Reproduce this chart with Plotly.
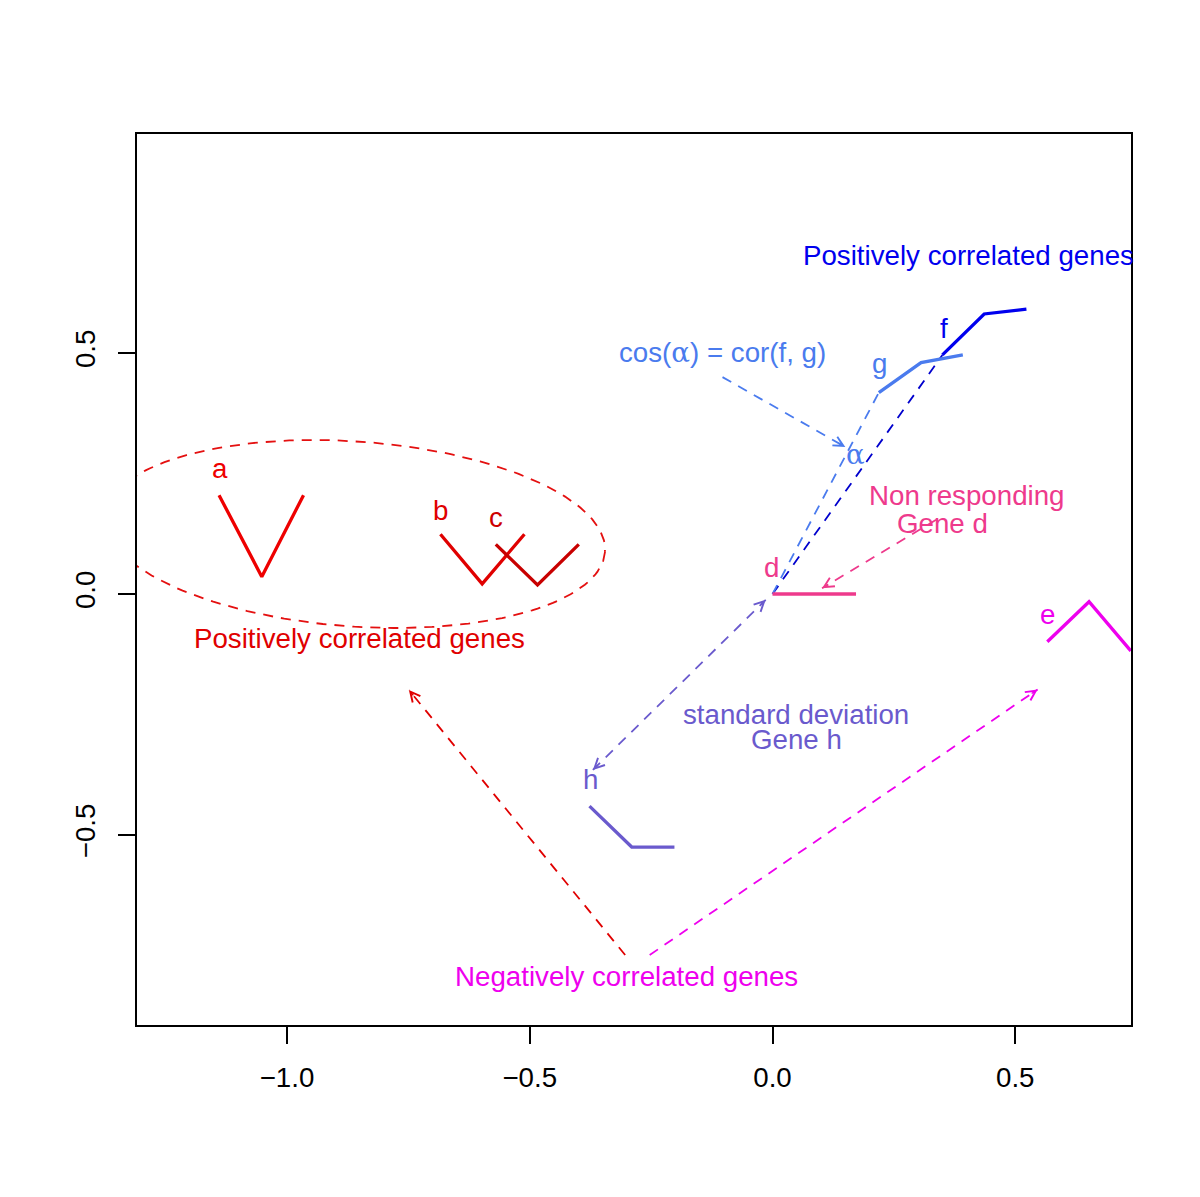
import numpy as np
import plotly.graph_objects as go

# axis frame (data units) and ticks
x_range = [-1.309, 0.7384]
y_range = [-0.8942, 0.9544]
x_ticks = [-1.0, -0.5, 0.0, 0.5]
y_ticks = [-0.5, 0.0, 0.5]

# gene profiles drawn as small polylines in the factor plane
gene_a_x = [-1.140, -1.052, -0.966]
gene_a_y = [0.205, 0.036, 0.205]
gene_b_x = [-0.684, -0.598, -0.511]
gene_b_y = [0.124, 0.021, 0.124]
gene_c_x = [-0.570, -0.484, -0.399]
gene_c_y = [0.103, 0.019, 0.103]
gene_d_x = [0.0, 0.086, 0.172]
gene_d_y = [0.0, 0.0, 0.0]
gene_e_x = [0.566, 0.652, 0.738]
gene_e_y = [-0.099, -0.016, -0.118]
gene_f_x = [0.350, 0.436, 0.523]
gene_f_y = [0.496, 0.581, 0.591]
gene_g_x = [0.219, 0.306, 0.392]
gene_g_y = [0.418, 0.480, 0.496]
gene_h_x = [-0.377, -0.290, -0.202]
gene_h_y = [-0.440, -0.525, -0.525]

# ellipse around the positively correlated red genes: centre and two half-axis vectors
ell_center = (-0.860, 0.1245)
ell_u = (0.515, -0.037)
ell_v = (-0.0136, -0.1915)

# dashed guide lines without heads: (x0, y0, x1, y1, colour)
guides = [
    (0.0, 0.0, 0.350, 0.496, "#0000CD"),
    (0.0, 0.0, 0.219, 0.418, "#4A7BEE"),
]

# dashed arrows: (x0, y0, x1, y1, colour, head at start too)
arrows = [
    (-0.103, 0.450, 0.150, 0.305, "#4A7BEE", False),
    (0.337, 0.154, 0.102, 0.012, "#EE3A8C", False),
    (-0.370, -0.365, -0.014, -0.012, "#6A5ACD", True),
    (-0.3035, -0.749, -0.749, -0.199, "#E00000", False),
    (-0.253, -0.749, 0.546, -0.198, "#EE00EE", False),
]

# text labels: (x, y, text, colour)
labels = [
    (-1.138, 0.260, "a", "#EE0000"),
    (-0.683, 0.174, "b", "#E00000"),
    (-0.570, 0.159, "c", "#CD0000"),
    (-0.850, -0.093, "Positively correlated genes", "#E00000"),
    (-0.002, 0.054, "d", "#EE3A8C"),
    (0.400, 0.205, "Non responding", "#EE3A8C"),
    (0.350, 0.147, "Gene d", "#EE3A8C"),
    (0.566, -0.043, "e", "#EE00EE"),
    (0.354, 0.551, "f", "#0000EE"),
    (0.221, 0.478, "g", "#4A7BEE"),
    (-0.103, 0.502, "cos(<span style='font-family:DejaVu Serif'>α</span>) = cor(f, g)", "#4A7BEE"),
    (0.170, 0.290, "<span style='font-family:DejaVu Serif'>α</span>", "#4A7BEE"),
    (0.403, 0.703, "Positively correlated genes", "#0000EE"),
    (0.049, -0.251, "standard deviation", "#6A5ACD"),
    (0.049, -0.302, "Gene h", "#6A5ACD"),
    (-0.375, -0.385, "h", "#6A5ACD"),
    (-0.300, -0.793, "Negatively correlated genes", "#EE00EE"),
]

W, H = 1200, 1197
# the page body adds an 8px offset, so shift the plot area back
M = dict(l=129, r=77, t=126, b=180)
px_x = (W - M["l"] - M["r"]) / (x_range[1] - x_range[0])
px_y = (H - M["t"] - M["b"]) / (y_range[1] - y_range[0])
DASH = "10px,8px"
FONT = "Liberation Sans, Arial, sans-serif"
FS = 27.7

fig = go.Figure()

genes = [
    (gene_a_x, gene_a_y, "#EE0000"),
    (gene_b_x, gene_b_y, "#E00000"),
    (gene_c_x, gene_c_y, "#C80000"),
    (gene_d_x, gene_d_y, "#EE3A8C"),
    (gene_e_x, gene_e_y, "#EE00EE"),
    (gene_f_x, gene_f_y, "#0000EE"),
    (gene_g_x, gene_g_y, "#4A7BEE"),
    (gene_h_x, gene_h_y, "#6A5ACD"),
]

t = np.linspace(0, 2 * np.pi, 200)
fig.add_trace(go.Scatter(
    x=ell_center[0] + ell_u[0] * np.cos(t) + ell_v[0] * np.sin(t),
    y=ell_center[1] + ell_u[1] * np.cos(t) + ell_v[1] * np.sin(t),
    mode="lines", line=dict(color="#E41010", width=1.8, dash=DASH),
))

for x0, y0, x1, y1, col in guides:
    fig.add_trace(go.Scatter(x=[x0, x1], y=[y0, y1], mode="lines",
                             line=dict(color=col, width=1.8, dash=DASH)))


def head(x_tip, y_tip, x_from, y_from, col):
    # short pixel offset along the arrow so plotly orients the head
    dx = (x_tip - x_from) * px_x
    dy = -(y_tip - y_from) * px_y
    n = (dx ** 2 + dy ** 2) ** 0.5
    fig.add_annotation(x=x_tip, y=y_tip, ax=-dx / n * 9, ay=-dy / n * 9,
                       text="", showarrow=True, arrowhead=5, arrowwidth=1.5,
                       arrowsize=1.3, arrowcolor=col)


for x0, y0, x1, y1, col, both in arrows:
    fig.add_trace(go.Scatter(x=[x0, x1], y=[y0, y1], mode="lines",
                             line=dict(color=col, width=1.8, dash=DASH)))
    head(x1, y1, x0, y0, col)
    if both:
        head(x0, y0, x1, y1, col)

for gx, gy, col in genes:
    fig.add_trace(go.Scatter(x=gx, y=gy, mode="lines",
                             line=dict(color=col, width=3.3)))

for x, y, txt, col in labels:
    fig.add_annotation(x=x, y=y, text=txt, showarrow=False,
                       font=dict(family=FONT, size=FS, color=col))

axis = dict(showgrid=False, zeroline=False, showline=True, linecolor="black",
            linewidth=2, mirror=True, ticks="outside", ticklen=17, tickwidth=1.5,
            tickcolor="black", tickformat=".1f",
            tickfont=dict(family=FONT, size=FS, color="black"))

fig.update_layout(
    width=W, height=H, margin=M, showlegend=False,
    paper_bgcolor="white", plot_bgcolor="white", hovermode=False,
    xaxis=dict(axis, range=x_range, tickvals=x_ticks, ticklabelstandoff=10),
    yaxis=dict(axis, range=y_range, tickvals=y_ticks, tickangle=-90,
               ticklabelstandoff=12),
)

fig.write_html("out.html")
